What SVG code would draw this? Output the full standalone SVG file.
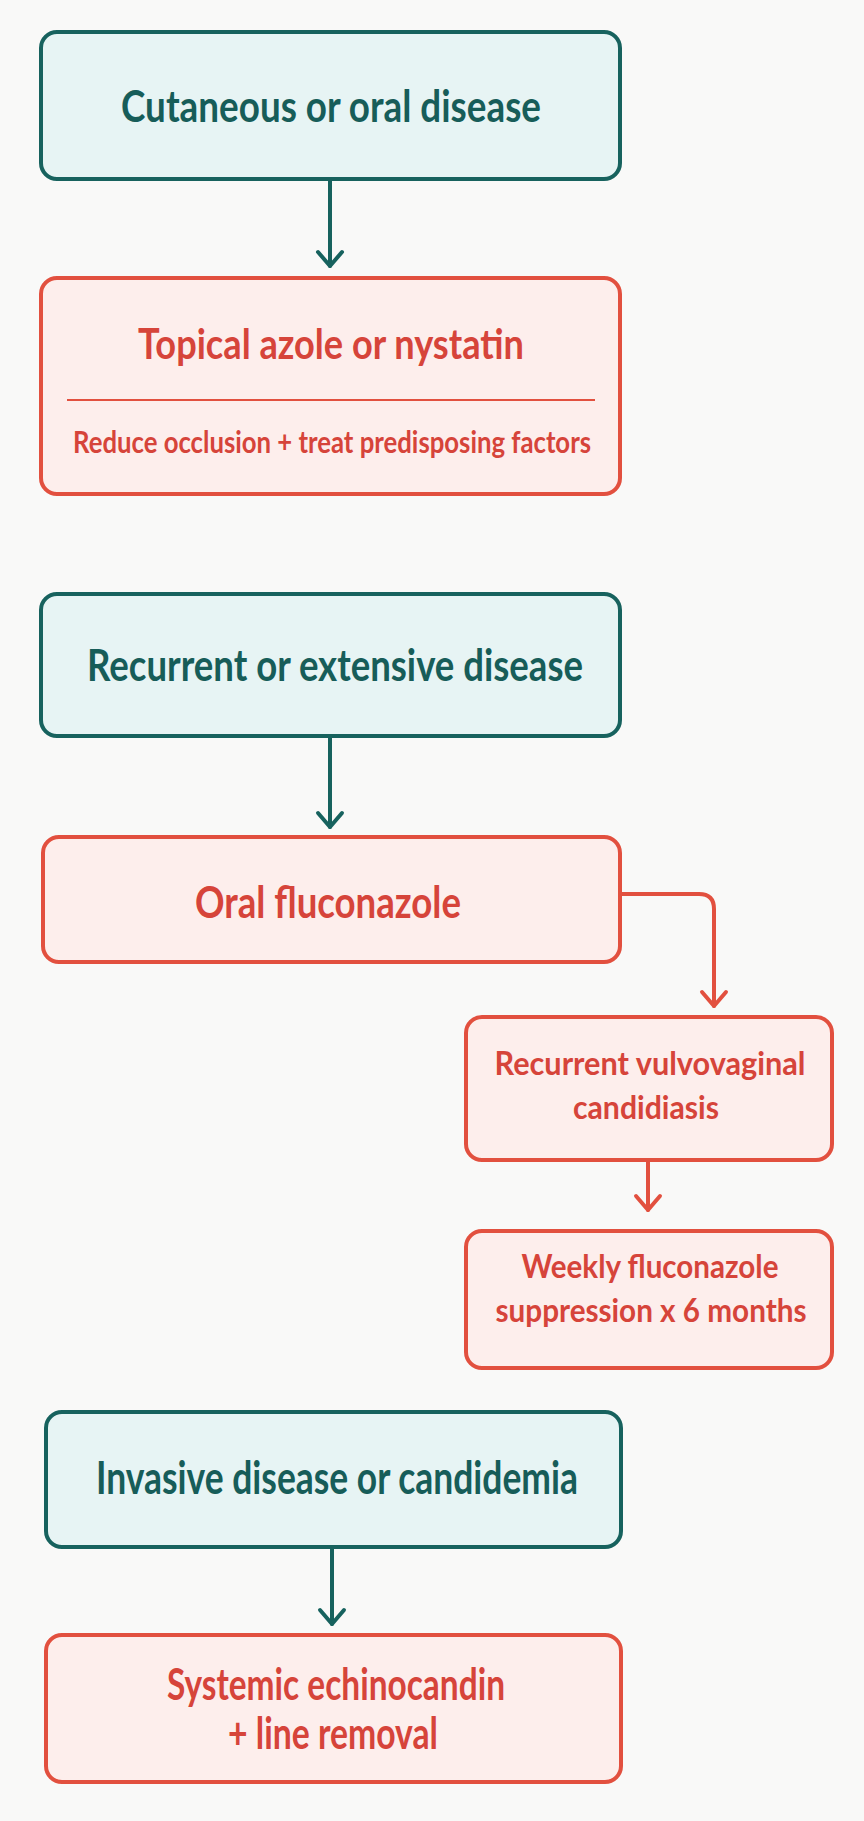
<svg xmlns="http://www.w3.org/2000/svg" width="864" height="1821" viewBox="0 0 864 1821">
  <defs>
    <marker id="arrT" markerUnits="userSpaceOnUse" markerWidth="40" markerHeight="40" viewBox="-20 -20 40 40" refX="0" refY="0" orient="auto">
      <path d="M -14 -12 L 0 0 L -14 12" fill="none" stroke="#17625e" stroke-width="4" stroke-linecap="round" stroke-linejoin="round"/>
    </marker>
    <marker id="arrR" markerUnits="userSpaceOnUse" markerWidth="40" markerHeight="40" viewBox="-20 -20 40 40" refX="0" refY="0" orient="auto">
      <path d="M -14 -12 L 0 0 L -14 12" fill="none" stroke="#e2503f" stroke-width="4" stroke-linecap="round" stroke-linejoin="round"/>
    </marker>
  </defs>
  <style>
    .tbox { fill: #e7f4f4; stroke: #17625e; stroke-width: 4; }
    .rbox { fill: #fdeeec; stroke: #e2503f; stroke-width: 4; }
    .tt { fill: #175d59; font-family: Lato, "Liberation Sans", sans-serif; font-weight: 700; text-anchor: middle; }
    .rt { fill: #d6443a; font-family: Lato, "Liberation Sans", sans-serif; font-weight: 700; text-anchor: middle; }
    .tl { fill: none; stroke: #17625e; stroke-width: 4; stroke-linecap: round; }
    .rl { fill: none; stroke: #e2503f; stroke-width: 4; stroke-linecap: round; stroke-linejoin: round; }
  </style>
  <rect x="0" y="0" width="864" height="1821" fill="#f9f9f8"/>

  <g id="connectors">
    <line class="tl" x1="330" y1="179" x2="330" y2="266" marker-end="url(#arrT)"/>
    <line class="tl" x1="330" y1="736" x2="330" y2="827" marker-end="url(#arrT)"/>
    <path class="rl" d="M 620 894 L 699 894 Q 714 894 714 909 L 714 1006" marker-end="url(#arrR)"/>
    <line class="rl" x1="648" y1="1160" x2="648" y2="1210" marker-end="url(#arrR)"/>
    <line class="tl" x1="332" y1="1547" x2="332" y2="1624" marker-end="url(#arrT)"/>
  </g>

  <g id="node-cutaneous">
    <rect class="tbox" x="41" y="32" width="579" height="147" rx="16"/>
    <text class="tt" x="331" y="122" font-size="44" textLength="420" lengthAdjust="spacingAndGlyphs">Cutaneous or oral disease</text>
  </g>

  <g id="node-topical">
    <rect class="rbox" x="41" y="278" width="579" height="216" rx="16"/>
    <text class="rt" x="331" y="359" font-size="42" textLength="386" lengthAdjust="spacingAndGlyphs">Topical azole or nystatin</text>
    <line x1="67" y1="400" x2="595" y2="400" stroke="#e2503f" stroke-width="1.8"/>
    <text class="rt" x="332" y="453" font-size="30" textLength="518" lengthAdjust="spacingAndGlyphs">Reduce occlusion + treat predisposing factors</text>
  </g>

  <g id="node-recurrent">
    <rect class="tbox" x="41" y="594" width="579" height="142" rx="16"/>
    <text class="tt" x="335" y="681" font-size="44" textLength="496" lengthAdjust="spacingAndGlyphs">Recurrent or extensive disease</text>
  </g>

  <g id="node-oral">
    <rect class="rbox" x="43" y="837" width="577" height="125" rx="16"/>
    <text class="rt" x="328" y="918" font-size="43" textLength="266" lengthAdjust="spacingAndGlyphs">Oral fluconazole</text>
  </g>

  <g id="node-rvvc">
    <rect class="rbox" x="466" y="1017" width="366" height="143" rx="16"/>
    <text class="rt" x="650" y="1075" font-size="33" textLength="311" lengthAdjust="spacingAndGlyphs">Recurrent vulvovaginal</text>
    <text class="rt" x="646" y="1119" font-size="33" textLength="146" lengthAdjust="spacingAndGlyphs">candidiasis</text>
  </g>

  <g id="node-weekly">
    <rect class="rbox" x="466" y="1231" width="366" height="137" rx="16"/>
    <text class="rt" x="650" y="1278" font-size="33" textLength="257" lengthAdjust="spacingAndGlyphs">Weekly fluconazole</text>
    <text class="rt" x="651" y="1322" font-size="33" textLength="311" lengthAdjust="spacingAndGlyphs">suppression x 6 months</text>
  </g>

  <g id="node-invasive">
    <rect class="tbox" x="46" y="1412" width="575" height="135" rx="16"/>
    <text class="tt" x="337" y="1494" font-size="45" textLength="482" lengthAdjust="spacingAndGlyphs">Invasive disease or candidemia</text>
  </g>

  <g id="node-systemic">
    <rect class="rbox" x="46" y="1635" width="575" height="147" rx="16"/>
    <text class="rt" x="336" y="1700" font-size="43" textLength="338" lengthAdjust="spacingAndGlyphs">Systemic echinocandin</text>
    <text class="rt" x="333" y="1749" font-size="43" textLength="210" lengthAdjust="spacingAndGlyphs">+ line removal</text>
  </g>
</svg>
